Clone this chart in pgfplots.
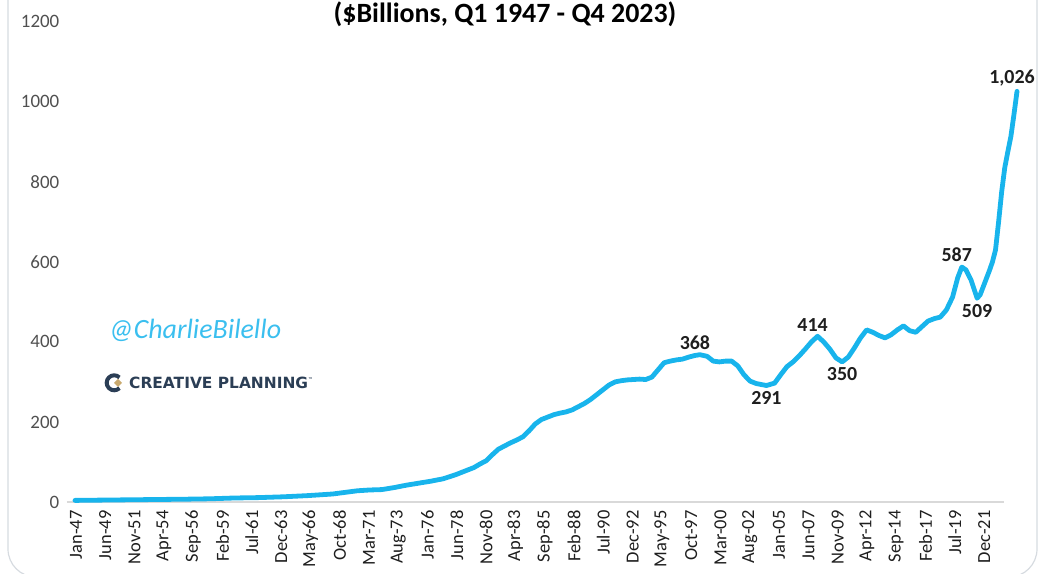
\documentclass[border=0pt]{standalone}
\usepackage{fontspec}
\setmainfont{Carlito}
\newfontfamily\dejavu{DejaVu Sans}
\usepackage{pgfplots}
\pgfplotsset{compat=1.18}

\definecolor{linecol}{RGB}{24,180,236}
\definecolor{tickcol}{RGB}{80,80,80}
\definecolor{labcol}{RGB}{30,30,30}
\definecolor{navy}{RGB}{43,62,85}
\definecolor{gold}{RGB}{201,169,110}
\definecolor{framecol}{RGB}{214,219,224}

\begin{document}
\begin{tikzpicture}[x=1bp,y=1bp]
\path[use as bounding box] (0,0) rectangle (1038,574);
% screenshot frame
\draw[framecol, line width=1.2bp, rounded corners=28bp] (8,-3) rectangle (1037,640);

% title
\node[anchor=base, font=\bfseries\fontsize{28}{28}\selectfont, text=black] at (505,551) {(\$Billions, Q1 1947 - Q4 2023)};

\begin{axis}[
  at={(66.8bp,72bp)}, anchor=south west,
  scale only axis, width=936.9bp, height=480.3bp,
  xmin=-8, xmax=908, ymin=0, ymax=1200,
  clip=false,
  axis x line*=bottom, axis y line*=left,
  y axis line style={draw=none},
  x axis line style={draw=gray!30, line width=1.5bp, -},
  major tick length=0pt,
  ytick={0,200,...,1200},
  xtick={1,29.64,...,890},
  xticklabels={Jan-47,Jun-49,Nov-51,Apr-54,Sep-56,Feb-59,Jul-61,Dec-63,May-66,Oct-68,Mar-71,Aug-73,Jan-76,Jun-78,Nov-80,Apr-83,Sep-85,Feb-88,Jul-90,Dec-92,May-95,Oct-97,Mar-00,Aug-02,Jan-05,Jun-07,Nov-09,Apr-12,Sep-14,Feb-17,Jul-19,Dec-21},
  /pgf/number format/assume math mode=true,
  /pgf/number format/1000 sep={},
  yticklabel style={font=\fontsize{19}{19}\selectfont, text=tickcol, xshift=-4bp},
  xticklabel style={font=\fontsize{18.5}{18.5}\selectfont, text=labcol, rotate=90, anchor=east},
  xticklabel shift=5bp,
]
\addplot[linecol, line width=4.8bp, line join=round, line cap=round] coordinates {
(0,4) (36,5) (72,6) (108,7) (132,8) (156,10) (180,11) (204,13) (228,16)
(252,20) (264,24) (276,28) (288,30) (300,31) (312,36) (324,42) (336,47)
(348,52) (360,58) (372,68) (384,80) (390,86) (396,95) (402,103) (408,118)
(414,132) (420,140) (426,148) (432,155) (438,163) (444,178) (450,195)
(456,206) (462,212) (468,218) (474,222) (480,225) (486,230) (492,238)
(498,246) (504,256) (510,268) (516,280) (522,292) (528,300) (534,303)
(540,305) (546,306) (552,307) (558,306) (564,312) (570,330) (576,348)
(582,352) (588,355) (594,357) (600,362) (606,366) (611,368) (618,364)
(624,352) (630,350) (636,352) (642,352) (648,340) (654,318) (660,302)
(666,296) (676,291) (684,297) (690,318) (696,338) (702,350) (708,365)
(714,382) (720,400) (726,414) (732,400) (738,382) (744,360) (750,350)
(756,362) (762,385) (768,410) (774,430) (780,424) (786,416) (792,410)
(798,418) (804,430) (810,440) (816,428) (822,424) (828,438) (834,452)
(840,458) (846,462) (852,480) (858,512) (863,560) (867,587) (871,580)
(876,555) (882,509) (885,518) (888,538) (891,558) (894,578) (897,600)
(900,630) (903,700) (906,775) (909,835) (912,875) (915,913) (918,968)
(921,1026)
};
\addplot[draw=none, nodes near coords, point meta=explicit symbolic,
  every node near coord/.append style={font=\bfseries\fontsize{20}{20}\selectfont, text=labcol, anchor=south, inner sep=2bp, xshift=-5bp, yshift=3bp}]
  coordinates {(611,368)[368] (726,414)[414] (867,587)[587] (921,1026)[1{,}026]};
\addplot[draw=none, nodes near coords, point meta=explicit symbolic,
  every node near coord/.append style={font=\bfseries\fontsize{20}{20}\selectfont, text=labcol, anchor=north, inner sep=2bp, yshift=-3.5bp}]
  coordinates {(676,291)[291] (750,350)[350] (882,509)[509]};
\end{axis}

% watermark
\node[font=\itshape\fontsize{28}{28}\selectfont, text=linecol!85] at (195,244) {@CharlieBilello};
\draw[navy, line width=4bp] (119.5,196.5) arc[start angle=45, end angle=315, radius=7.5];
\fill[gold] (114,191) -- (118,195) -- (122,191) -- (118,187) -- cycle;
\node[anchor=west, font=\dejavu\bfseries\fontsize{15.5}{15.5}\selectfont, text=navy, inner sep=0pt] at (129,191) {CREATIVE PLANNING\raisebox{0.9ex}{\fontsize{5}{5}\selectfont ™}};
\end{tikzpicture}
\end{document}
